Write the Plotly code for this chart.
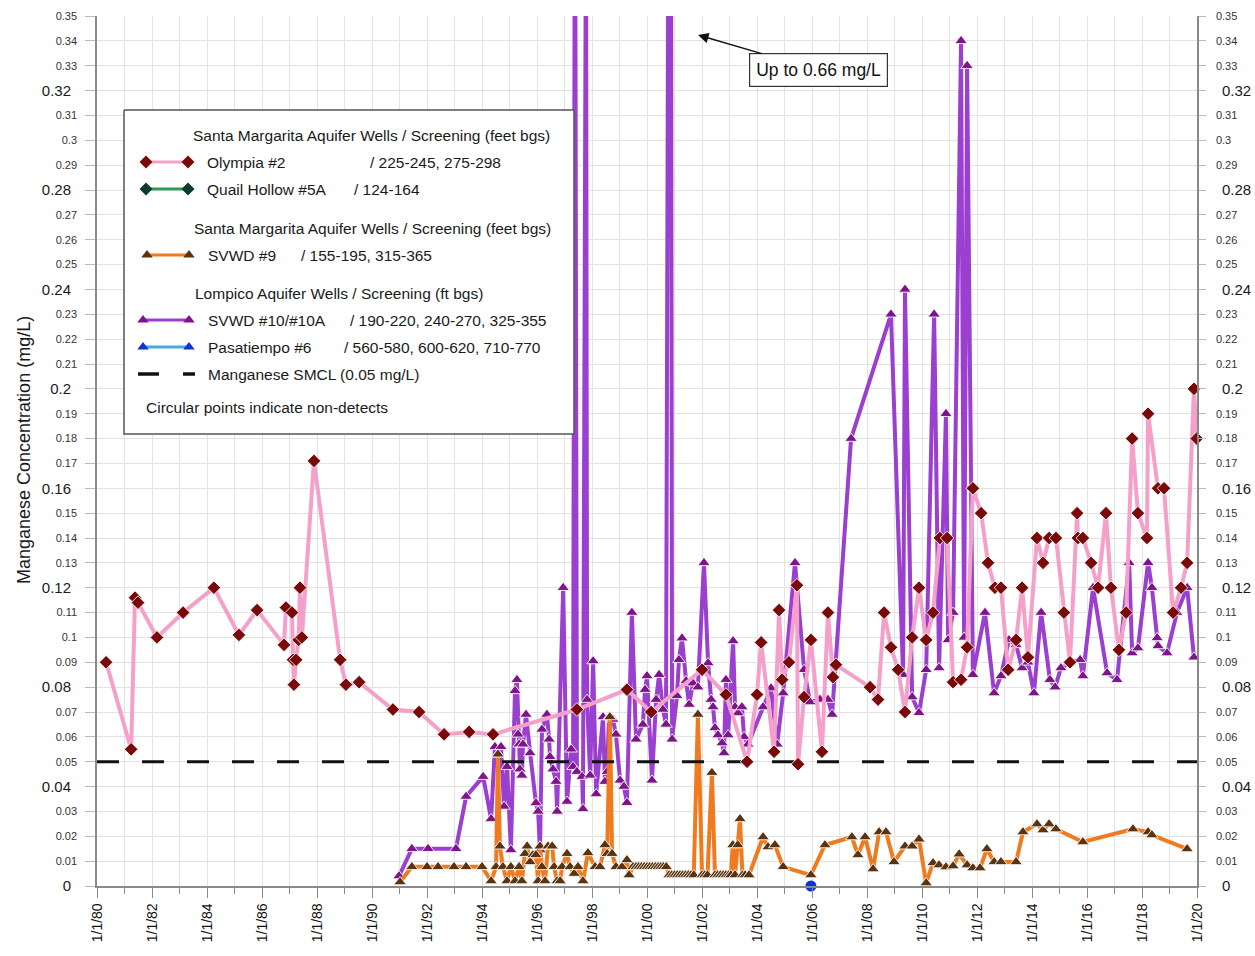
import datetime as dt
import plotly.graph_objects as go

# ---------------- data: decimal year, manganese (mg/L) ----------------
olympia_years = [
    1980.33, 1981.24, 1981.38, 1981.49, 1982.18, 1983.13, 1984.25, 1985.16, 1985.82, 1986.80,
    1986.87, 1987.09, 1987.13, 1987.16, 1987.24, 1987.33, 1987.38, 1987.45, 1987.89, 1988.84,
    1989.05, 1989.53, 1990.76, 1991.71, 1992.62, 1993.53, 1994.40, 1997.45, 1999.27, 2000.15,
    2002.00, 2002.87, 2003.64, 2004.00, 2004.15, 2004.62, 2004.80, 2004.91, 2005.16, 2005.45,
    2005.49, 2005.71, 2005.96, 2006.36, 2006.58, 2006.76, 2006.87, 2008.11, 2008.40, 2008.62,
    2008.87, 2009.13, 2009.38, 2009.64, 2009.89, 2010.15, 2010.40, 2010.65, 2010.91, 2011.13,
    2011.42, 2011.64, 2011.85, 2012.15, 2012.40, 2012.65, 2012.87, 2013.13, 2013.42, 2013.64,
    2013.85, 2014.18, 2014.40, 2014.62, 2014.87, 2015.16, 2015.38, 2015.64, 2015.67, 2015.85,
    2016.15, 2016.40, 2016.69, 2016.87, 2017.16, 2017.42, 2017.64, 2017.85, 2018.18, 2018.22,
    2018.58, 2018.80, 2019.13, 2019.42, 2019.64, 2019.89, 2019.99,
]
olympia_mgl = [
    0.090, 0.055, 0.116, 0.114, 0.100, 0.110, 0.120, 0.101, 0.111, 0.097,
    0.112, 0.110, 0.091, 0.081, 0.091, 0.099, 0.120, 0.100, 0.171, 0.091,
    0.081, 0.082, 0.071, 0.070, 0.061, 0.062, 0.061, 0.071, 0.079, 0.070,
    0.087, 0.077, 0.050, 0.077, 0.098, 0.054, 0.111, 0.083, 0.090, 0.121,
    0.049, 0.076, 0.099, 0.054, 0.110, 0.084, 0.089, 0.080, 0.075, 0.110,
    0.096, 0.087, 0.070, 0.100, 0.120, 0.099, 0.110, 0.140, 0.140, 0.082,
    0.083, 0.096, 0.160, 0.150, 0.130, 0.120, 0.120, 0.087, 0.099, 0.120,
    0.092, 0.140, 0.130, 0.140, 0.140, 0.110, 0.090, 0.150, 0.140, 0.140,
    0.130, 0.120, 0.150, 0.120, 0.095, 0.110, 0.180, 0.150, 0.140, 0.190,
    0.160, 0.160, 0.110, 0.120, 0.130, 0.200, 0.180,
]

svwd10_years = [
    1990.98, 1991.45, 1992.04, 1993.05, 1993.42, 1994.04, 1994.33, 1994.47, 1994.58, 1994.69,
    1994.80, 1994.91, 1995.05, 1995.20, 1995.27, 1995.31, 1995.35, 1995.38, 1995.45, 1995.49,
    1995.60, 1995.75, 1995.96, 1996.04, 1996.11, 1996.18, 1996.36, 1996.44, 1996.47, 1996.58,
    1996.69, 1996.73, 1996.95, 1997.09, 1997.24, 1997.31, 1997.38, 1997.45, 1997.64, 1997.67,
    1997.78, 1997.82, 1997.93, 1998.04, 1998.15, 1998.40, 1998.47, 1998.55, 1998.62, 1998.76,
    1998.87, 1999.02, 1999.16, 1999.27, 1999.45, 1999.60, 1999.85, 1999.93, 2000.00, 2000.18,
    2000.33, 2000.44, 2000.58, 2000.69, 2000.84, 2000.91, 2001.09, 2001.16, 2001.27, 2001.42,
    2001.53, 2001.67, 2001.85, 2002.07, 2002.22, 2002.33, 2002.40, 2002.47, 2002.58, 2002.73,
    2002.80, 2002.87, 2002.95, 2003.13, 2003.20, 2003.31, 2003.45, 2003.53, 2003.67, 2004.22,
    2004.51, 2004.73, 2004.95, 2005.38, 2005.71, 2005.93, 2006.29, 2006.58, 2006.73, 2007.42,
    2008.87, 2009.31, 2009.38, 2009.64, 2009.89, 2010.15, 2010.44, 2010.62, 2010.87, 2010.95,
    2011.13, 2011.42, 2011.53, 2011.64, 2011.85, 2012.29, 2012.62, 2012.87, 2013.16, 2013.42,
    2013.64, 2013.85, 2014.07, 2014.33, 2014.65, 2014.84, 2015.05, 2015.38, 2015.75, 2015.85,
    2016.22, 2016.73, 2017.09, 2017.53, 2017.64, 2017.85, 2018.22, 2018.36, 2018.55, 2018.58,
    2018.91, 2019.27, 2019.64, 2019.89,
]
svwd10_mgl = [
    0.004, 0.015, 0.015, 0.015, 0.036, 0.044, 0.027, 0.056, 0.053, 0.056,
    0.032, 0.048, 0.0145, 0.0785, 0.083, 0.061, 0.057, 0.047, 0.0445, 0.057,
    0.069, 0.0535, 0.0334, 0.030, 0.0145, 0.063, 0.069, 0.059, 0.052, 0.047,
    0.042, 0.030, 0.120, 0.034, 0.055, 0.048, 0.44, 0.046, 0.044, 0.031,
    0.40, 0.075, 0.0445, 0.0905, 0.037, 0.068, 0.042, 0.046, 0.068, 0.067,
    0.061, 0.0425, 0.040, 0.0335, 0.110, 0.059, 0.065, 0.079, 0.0845, 0.0425,
    0.075, 0.085, 0.071, 0.065, 0.66, 0.059, 0.0765, 0.091, 0.0997, 0.0825,
    0.073, 0.0816, 0.080, 0.130, 0.0897, 0.075, 0.072, 0.0636, 0.0607, 0.0575,
    0.0535, 0.083, 0.0607, 0.0986, 0.072, 0.0696, 0.072, 0.060, 0.057, 0.072,
    0.0796, 0.057, 0.0776, 0.130, 0.087, 0.074, 0.075, 0.075, 0.069, 0.180,
    0.230, 0.085, 0.240, 0.076, 0.0697, 0.087, 0.230, 0.0877, 0.190, 0.099,
    0.110, 0.340, 0.100, 0.330, 0.085, 0.110, 0.0776, 0.0845, 0.099, 0.097,
    0.0877, 0.090, 0.0776, 0.110, 0.083, 0.080, 0.0877, 0.090, 0.091, 0.0845,
    0.120, 0.0857, 0.083, 0.130, 0.0937, 0.0957, 0.130, 0.120, 0.0998, 0.0966,
    0.0937, 0.110, 0.120, 0.092,
]

svwd9_years = [
    1991.02, 1991.45, 1992.00, 1992.40, 1992.98, 1993.42, 1994.00, 1994.33, 1994.51, 1994.58,
    1994.65, 1994.76, 1994.91, 1995.05, 1995.20, 1995.35, 1995.45, 1995.56, 1995.64, 1995.75,
    1995.85, 1995.96, 1996.04, 1996.11, 1996.18, 1996.29, 1996.40, 1996.55, 1996.62, 1996.73,
    1996.84, 1996.91, 1997.09, 1997.20, 1997.35, 1997.49, 1997.67, 1997.85, 1998.11, 1998.29,
    1998.47, 1998.55, 1998.65, 1998.73, 1998.87, 1999.09, 1999.27, 1999.35, 1999.49, 1999.60,
    1999.70, 1999.80, 1999.90, 2000.00, 2000.10, 2000.20, 2000.30, 2000.40, 2000.50, 2000.60,
    2000.70, 2000.80, 2000.90, 2001.00, 2001.10, 2001.20, 2001.30, 2001.40, 2001.50, 2001.60,
    2001.70, 2001.85, 2002.00, 2002.10, 2002.20, 2002.36, 2002.47, 2002.57, 2002.67, 2002.77,
    2002.87, 2002.97, 2003.05, 2003.12, 2003.20, 2003.30, 2003.38, 2003.47, 2003.57, 2003.71,
    2004.22, 2004.40, 2004.65, 2004.95, 2005.96, 2006.47, 2007.45, 2007.67, 2007.93, 2008.22,
    2008.44, 2008.69, 2008.98, 2009.38, 2009.64, 2009.89, 2010.15, 2010.40, 2010.62, 2010.87,
    2011.13, 2011.35, 2011.64, 2011.85, 2012.11, 2012.36, 2012.62, 2012.87, 2013.42, 2013.67,
    2014.18, 2014.40, 2014.62, 2014.87, 2015.85, 2017.67, 2018.22, 2018.36, 2019.64,
]
svwd9_mgl = [
    0.0016, 0.0077, 0.0077, 0.0077, 0.0077, 0.0077, 0.0077, 0.0020, 0.0077, 0.0530,
    0.0160, 0.0077, 0.0020, 0.0077, 0.0020, 0.0077, 0.0020, 0.0130, 0.0160, 0.0097,
    0.0125, 0.0125, 0.0020, 0.0160, 0.0077, 0.0020, 0.0160, 0.0160, 0.0077, 0.0020,
    0.0020, 0.0077, 0.0130, 0.0077, 0.0050, 0.0077, 0.0020, 0.0133, 0.0077, 0.0077,
    0.0165, 0.0130, 0.0680, 0.0130, 0.0077, 0.0077, 0.0105, 0.0044, 0.0077, 0.0077,
    0.0077, 0.0077, 0.0077, 0.0077, 0.0077, 0.0077, 0.0077, 0.0077, 0.0077, 0.0077,
    0.0077, 0.0044, 0.0044, 0.0044, 0.0044, 0.0044, 0.0044, 0.0044, 0.0044, 0.0044,
    0.0044, 0.0690, 0.0044, 0.0044, 0.0044, 0.0456, 0.0044, 0.0044, 0.0044, 0.0044,
    0.0044, 0.0044, 0.0044, 0.0165, 0.0044, 0.0165, 0.0270, 0.0044, 0.0044, 0.0044,
    0.0197, 0.0157, 0.0165, 0.0077, 0.0044, 0.0165, 0.0197, 0.0125, 0.0197, 0.0068,
    0.0217, 0.0217, 0.0097, 0.0160, 0.0160, 0.0188, 0.0012, 0.0093, 0.0084, 0.0076,
    0.0080, 0.0128, 0.0084, 0.0072, 0.0072, 0.0149, 0.0097, 0.0097, 0.0097, 0.0217,
    0.0249, 0.0225, 0.0249, 0.0229, 0.0177, 0.0229, 0.0217, 0.0205, 0.0149,
]

# Pasatiempo #6: single non-detect result (plotted at zero)
pasatiempo_years = [2005.96]
pasatiempo_mgl = [0.0]

smcl_mgl = 0.05
x_start, x_end = "1980-01-01", "2020-01-01"
y_max = 0.35
y_ticks = [round(i * 0.01, 2) for i in range(36)]
y_big_ticks = [0.0, 0.04, 0.08, 0.12, 0.16, 0.2, 0.24, 0.28, 0.32]

# ---------------- styling ----------------
FONT = "Liberation Sans, Arial, sans-serif"
PINK, DKRED = "#F4A0CA", "#7A0A0A"
GREEN, DKGREEN = "#2E9A5A", "#0B3B2A"
ORANGE, BROWN = "#F07A1E", "#5A3410"
PURPLE, DKPURPLE = "#9A3FCF", "#7E1489"
LTBLUE, BLUE = "#4AA8E0", "#1030D8"
GRID = "#E3E3E3"
AXIS = "#8A8A8A"

W, H = 1255, 956
ML, MR, MT, MB = 97, 58, 16, 70
PX0, PX1 = ML, W - MR          # plot area, pixels
PY0, PY1 = H - MB, MT


def to_date(y):
    yr = int(y)
    a = dt.datetime(yr, 1, 1)
    b = dt.datetime(yr + 1, 1, 1)
    return a + (b - a) * (y - yr)


def dates(years):
    return [to_date(y) for y in years]


def fmt(v):
    return f"{v:g}"


MK_EDGE = dict(color="rgba(255,255,255,0.85)", width=1)

fig = go.Figure()

# SVWD #10/#10A
fig.add_trace(go.Scatter(
    x=dates(svwd10_years), y=svwd10_mgl, mode="lines+markers",
    line=dict(color=PURPLE, width=4),
    marker=dict(symbol="triangle-up", size=11, color=DKPURPLE, line=MK_EDGE),
    cliponaxis=True, showlegend=False))

# SVWD #9
fig.add_trace(go.Scatter(
    x=dates(svwd9_years), y=svwd9_mgl, mode="lines+markers",
    line=dict(color=ORANGE, width=4),
    marker=dict(symbol="triangle-up", size=11, color=BROWN, line=MK_EDGE),
    cliponaxis=False, showlegend=False))

# Manganese SMCL
fig.add_trace(go.Scatter(
    x=[x_start, x_end], y=[smcl_mgl, smcl_mgl], mode="lines",
    line=dict(color="#111111", width=3, dash="22px,23px"),
    showlegend=False))

# Olympia #2
fig.add_trace(go.Scatter(
    x=dates(olympia_years), y=olympia_mgl, mode="lines+markers",
    line=dict(color=PINK, width=4),
    marker=dict(symbol="diamond", size=10.5, color=DKRED, line=MK_EDGE),
    cliponaxis=False, showlegend=False))

# Pasatiempo #6 (non-detect shown as a circle)
fig.add_trace(go.Scatter(
    x=dates(pasatiempo_years), y=pasatiempo_mgl, mode="markers",
    marker=dict(symbol="circle", size=11, color=BLUE),
    cliponaxis=False, showlegend=False))

# ---------------- legend box (pixel-coordinate overlay) ----------------
LX = dict(xaxis="x2", yaxis="y5")
box_x0, box_x1, box_y0, box_y1 = 124, 574, 110, 434
fig.add_trace(go.Scatter(
    x=[box_x0, box_x1, box_x1, box_x0, box_x0],
    y=[box_y0, box_y0, box_y1, box_y1, box_y0],
    mode="lines", fill="toself", fillcolor="white",
    line=dict(color="#555555", width=1.5), showlegend=False, hoverinfo="skip", **LX))


def legend_sample(y, line_color, mk_color, symbol, x0, x1):
    fig.add_trace(go.Scatter(
        x=[x0, x1], y=[y, y], mode="lines+markers",
        line=dict(color=line_color, width=3),
        marker=dict(symbol=symbol, size=10, color=mk_color),
        showlegend=False, hoverinfo="skip", **LX))


legend_sample(162, PINK, DKRED, "diamond", 146, 188)
legend_sample(189, GREEN, DKGREEN, "diamond", 146, 188)
legend_sample(255, ORANGE, BROWN, "triangle-up", 147, 189)
legend_sample(320, PURPLE, DKPURPLE, "triangle-up", 143, 189)
legend_sample(347, LTBLUE, BLUE, "triangle-up", 143, 189)
fig.add_trace(go.Scatter(
    x=[138, 159, None, 183, 195], y=[374, 374, None, 374, 374], mode="lines",
    line=dict(color="#111111", width=3.5), showlegend=False, hoverinfo="skip", **LX))

annotations = []


def label(x, y, text, size=15.5):
    annotations.append(dict(
        x=x, y=y, xref="x2", yref="y5", text=text, showarrow=False,
        xanchor="left", yanchor="middle",
        font=dict(family=FONT, size=size, color="#1a1a1a")))


label(191, 135, "Santa Margarita Aquifer Wells / Screening (feet bgs)")
label(205, 162, "Olympia #2")
label(368, 162, "/ 225-245, 275-298")
label(205, 189, "Quail Hollow #5A")
label(352, 189, "/ 124-164")
label(192, 228, "Santa Margarita Aquifer Wells / Screening (feet bgs)")
label(206, 255, "SVWD #9")
label(299, 255, "/ 155-195, 315-365")
label(193, 293, "Lompico Aquifer Wells / Screening (ft bgs)")
label(206, 320, "SVWD #10/#10A")
label(348, 320, "/ 190-220, 240-270, 325-355")
label(206, 347, "Pasatiempo #6")
label(342, 347, "/ 560-580, 600-620, 710-770")
label(206, 374, "Manganese SMCL (0.05 mg/L)")
label(144, 407, "Circular points indicate non-detects")

# callout for the off-scale result
annotations.append(dict(
    x=698, y=35, xref="x2", yref="y5",
    ax=818, ay=70, axref="x2", ayref="y5",
    text="Up to 0.66 mg/L", showarrow=True,
    arrowhead=2, arrowsize=1.4, arrowwidth=1.5, arrowcolor="#111111",
    bgcolor="white", bordercolor="#333333", borderwidth=1.2, borderpad=6,
    font=dict(family=FONT, size=17.5, color="#111111")))

# y-axis title (paper coordinates, left of the plot area)
annotations.append(dict(
    x=(24 - PX0) / (PX1 - PX0), y=(PY0 - 450) / (PY0 - PY1),
    xref="paper", yref="paper", text="Manganese Concentration (mg/L)",
    showarrow=False, textangle=-90, xanchor="center", yanchor="middle",
    font=dict(family=FONT, size=18, color="#1a1a1a")))

small_text = ["" if v in y_big_ticks else fmt(v) for v in y_ticks]
big_text = [fmt(v) for v in y_big_ticks]

common_y = dict(range=[0, y_max], fixedrange=True, zeroline=False)

fig.update_layout(
    width=W, height=H,
    margin=dict(l=ML, r=MR, t=MT, b=MB, pad=0),
    paper_bgcolor="white", plot_bgcolor="white",
    font=dict(family=FONT, color="#1a1a1a"),
    showlegend=False,
    annotations=annotations,
    xaxis=dict(
        type="date", range=[x_start, x_end], tick0=x_start, dtick="M24",
        tickformat="%-m/%-d/%y", tickangle=-90,
        tickfont=dict(size=14, color="#111111"),
        ticks="outside", ticklen=10, tickcolor=AXIS, tickwidth=1,
        showgrid=True, gridcolor=GRID, gridwidth=1,
        minor=dict(dtick="M12", tick0=x_start, ticks="outside", ticklen=6,
                   tickcolor=AXIS, showgrid=True, gridcolor=GRID),
        showline=True, linecolor=AXIS, linewidth=1.5,
        zeroline=False, automargin=False, fixedrange=True),
    yaxis=dict(
        **common_y, tickmode="array", tickvals=y_ticks, ticktext=small_text,
        tickfont=dict(size=11, color="#333333"),
        ticks="outside", ticklen=10, tickcolor="#BBBBBB",
        ticklabelstandoff=6,
        showgrid=True, gridcolor=GRID, gridwidth=1,
        showline=True, linecolor=AXIS, linewidth=1.5, automargin=False),
    yaxis2=dict(
        **common_y, overlaying="y", side="left", tickmode="array",
        tickvals=y_big_ticks, ticktext=big_text,
        tickfont=dict(size=15, color="#1a1a1a"),
        ticks="outside", ticklen=10, tickcolor="rgba(0,0,0,0)",
        ticklabelstandoff=12, showgrid=False, showline=False, automargin=False),
    yaxis3=dict(
        **common_y, overlaying="y", side="right", tickmode="array",
        tickvals=y_ticks, ticktext=small_text,
        tickfont=dict(size=11, color="#333333"),
        ticks="outside", ticklen=7, tickcolor="#BBBBBB",
        ticklabelstandoff=8, showgrid=False,
        showline=True, linecolor=AXIS, linewidth=1.5, automargin=False),
    yaxis4=dict(
        **common_y, overlaying="y", side="right", tickmode="array",
        tickvals=y_big_ticks, ticktext=big_text,
        tickfont=dict(size=15, color="#1a1a1a"),
        ticks="outside", ticklen=7, tickcolor="rgba(0,0,0,0)",
        ticklabelstandoff=14, showgrid=False, showline=False, automargin=False),
    xaxis2=dict(overlaying="x", range=[PX0, PX1], visible=False, fixedrange=True),
    yaxis5=dict(overlaying="y", range=[PY0, PY1], visible=False, fixedrange=True),
)

# invisible anchors so the overlaid label axes are rendered
for ax in ("y2", "y3", "y4"):
    fig.add_trace(go.Scatter(x=[x_start], y=[0], yaxis=ax, mode="markers",
                             marker=dict(opacity=0), showlegend=False, hoverinfo="skip"))

fig.write_html("out.html")
